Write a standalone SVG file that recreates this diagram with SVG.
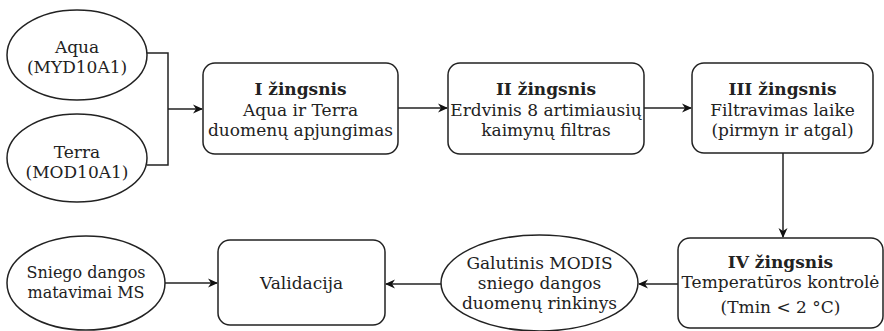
<svg xmlns="http://www.w3.org/2000/svg" width="884" height="331" viewBox="0 0 884 331">
<defs>
<marker id="arr" viewBox="0 0 10 10" refX="9" refY="5" markerWidth="10" markerHeight="10" markerUnits="userSpaceOnUse" orient="auto">
<path d="M0,0.5 L10,5 L0,9.5 L3,5 Z" fill="#111"/>
</marker>
<style>
.n{fill:#fff;stroke:#222;stroke-width:1.5}
.t{font-family:"DejaVu Serif",serif;font-size:17px;fill:#222;text-anchor:middle}
.s{font-size:16px}
.b{font-weight:bold}
.e{fill:none;stroke:#222;stroke-width:1.5}
</style>
</defs>
<rect width="884" height="331" fill="#fff"/>
<g id="connectors">
<path class="e" d="M147,53 H168 V165 H147"/>
<path class="e" d="M168,109 H202" marker-end="url(#arr)"/>
<path class="e" d="M398,108 H447" marker-end="url(#arr)"/>
<path class="e" d="M644,108 H691" marker-end="url(#arr)"/>
<path class="e" d="M783,153 V237" marker-end="url(#arr)"/>
<path class="e" d="M678,284 H639" marker-end="url(#arr)"/>
<path class="e" d="M441,284 H386" marker-end="url(#arr)"/>
<path class="e" d="M165,283 H217" marker-end="url(#arr)"/>
</g>
<g id="aqua">
<ellipse class="n" cx="77" cy="55" rx="70" ry="45"/>
<text class="t" x="77" y="53">Aqua</text>
<text class="t" x="77" y="73">(MYD10A1)</text>
</g>
<g id="terra">
<ellipse class="n" cx="77" cy="158" rx="70" ry="44"/>
<text class="t" x="77" y="158">Terra</text>
<text class="t" x="77" y="178">(MOD10A1)</text>
</g>
<g id="step1">
<rect class="n" x="203" y="63" width="195" height="91" rx="12"/>
<text class="t b" x="300.5" y="95">I žingsnis</text>
<text class="t" x="300.5" y="116">Aqua ir Terra</text>
<text class="t" x="300.5" y="136">duomenų apjungimas</text>
</g>
<g id="step2">
<rect class="n" x="448" y="63" width="196" height="91" rx="12"/>
<text class="t b" x="546" y="95">II žingsnis</text>
<text class="t" x="546" y="116">Erdvinis 8 artimiausių</text>
<text class="t" x="546" y="136">kaimynų filtras</text>
</g>
<g id="step3">
<rect class="n" x="692" y="63" width="181" height="90" rx="12"/>
<text class="t b" x="782.5" y="95">III žingsnis</text>
<text class="t" x="782.5" y="116">Filtravimas laike</text>
<text class="t" x="782.5" y="136">(pirmyn ir atgal)</text>
</g>
<g id="step4">
<rect class="n" x="678" y="238" width="205" height="90" rx="12"/>
<text class="t b" x="780.5" y="268">IV žingsnis</text>
<text class="t" x="780.5" y="288">Temperatūros kontrolė</text>
<text class="t" x="780.5" y="313">(Tmin &lt; 2 °C)</text>
</g>
<g id="final">
<ellipse class="n" cx="539.5" cy="283" rx="98.5" ry="48"/>
<text class="t" x="539.5" y="269">Galutinis MODIS</text>
<text class="t" x="539.5" y="289">sniego dangos</text>
<text class="t" x="539.5" y="309">duomenų rinkinys</text>
</g>
<g id="validacija">
<rect class="n" x="218" y="240" width="167" height="85" rx="12"/>
<text class="t" x="301.5" y="289">Validacija</text>
</g>
<g id="ms">
<ellipse class="n" cx="86" cy="283" rx="79" ry="47"/>
<text class="t s" x="86" y="278">Sniego dangos</text>
<text class="t s" x="86" y="298">matavimai MS</text>
</g>
</svg>
